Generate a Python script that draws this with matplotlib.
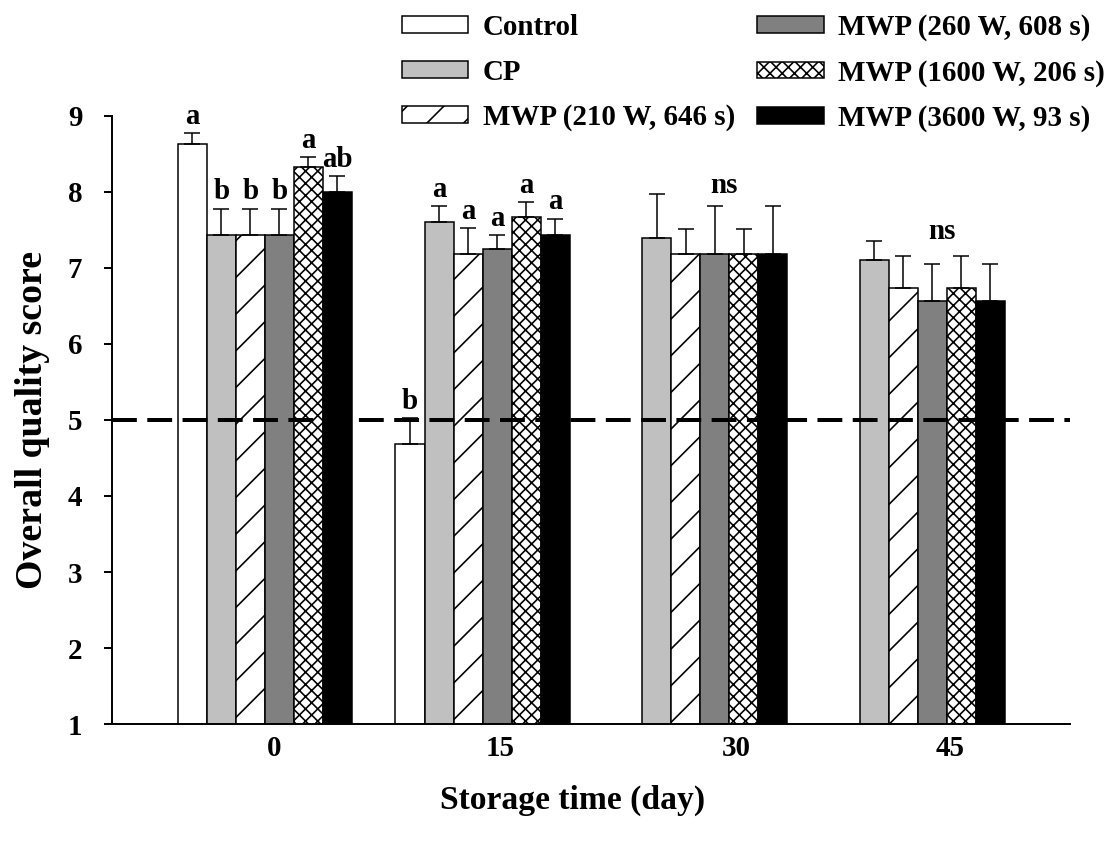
# -*- coding: utf-8 -*-

"""
Overall quality score vs storage time
Grouped bars with error bars, significance letters and a limit line at 5
"""

import numpy as np
import matplotlib
matplotlib.use("Agg")
import matplotlib.pyplot as plt


# =============================================================================
# DATA
# =============================================================================

days = ["0", "15", "30", "45"]

treatments = [
    "Control",
    "CP",
    "MWP (210 W, 646 s)",
    "MWP (260 W, 608 s)",
    "MWP (1600 W, 206 s)",
    "MWP (3600 W, 93 s)",
]

# mean scores per treatment (one value per storage day)
control = [8.63, 4.68, np.nan, np.nan]
cp = [7.43, 7.60, 7.40, 7.11]
mwp_210 = [7.43, 7.19, 7.19, 6.74]
mwp_260 = [7.43, 7.25, 7.19, 6.57]
mwp_1600 = [8.33, 7.67, 7.19, 6.74]
mwp_3600 = [8.00, 7.43, 7.19, 6.57]

# standard deviations (upper bars only)
control_err = [0.14, 0.34, np.nan, np.nan]
cp_err = [0.35, 0.21, 0.57, 0.25]
mwp_210_err = [0.35, 0.33, 0.32, 0.42]
mwp_260_err = [0.35, 0.18, 0.63, 0.48]
mwp_1600_err = [0.13, 0.20, 0.32, 0.42]
mwp_3600_err = [0.21, 0.22, 0.63, 0.48]

# significance letters per day (ns = not significant)
day0_letters = ["a", "b", "b", "b", "a", "ab"]
day15_letters = ["b", "a", "a", "a", "a", "a"]
ns_days = [2, 3]

limit_score = 5


# =============================================================================
# STYLE
# =============================================================================

# hatch spacing follows the dpi, so the dpi is picked for the hatch density;
# every size below is given for 156 dpi and scaled by S
DPI = 110
S = 156 / DPI

fills = ["white", "#c0c0c0", "white", "#808080", "white", "black"]
hatches = [None, None, "/", None, "xxx", None]

plt.rcParams["font.family"] = ["Liberation Serif", "DejaVu Serif"]
plt.rcParams["font.weight"] = "bold"
plt.rcParams["hatch.linewidth"] = 0.75 * S

means = [control, cp, mwp_210, mwp_260, mwp_1600, mwp_3600]
errs = [control_err, cp_err, mwp_210_err, mwp_260_err, mwp_1600_err, mwp_3600_err]

x = np.arange(len(days))
n = len(treatments)
width = 0.8 / n


# =============================================================================
# PLOT
# =============================================================================

fig = plt.figure(figsize=(1113 / DPI, 846 / DPI), dpi=DPI)
ax = fig.add_axes([0.1006, 0.1442, 0.8608, 0.7187])

for i in range(n):
    pos = x + (i - (n - 1) / 2) * width
    vals = np.array(means[i], dtype=float)
    err = np.array(errs[i], dtype=float)
    ax.bar(pos, vals, width, color=fills[i], edgecolor="black",
           linewidth=0.7 * S, hatch=hatches[i], label=treatments[i], zorder=2)
    ok = ~np.isnan(vals)
    ax.errorbar(pos[ok], vals[ok], yerr=[np.zeros(ok.sum()), err[ok]],
                fmt="none", ecolor="black", elinewidth=0.7 * S,
                capsize=3.6 * S, capthick=0.7 * S, zorder=3)

# letters above bars
for d, letters in [(0, day0_letters), (1, day15_letters)]:
    for i, let in enumerate(letters):
        pos = x[d] + (i - (n - 1) / 2) * width
        top = means[i][d] + errs[i][d]
        ax.annotate(let, (pos, top), xytext=(0, 1.5 * S), textcoords="offset points",
                    ha="center", va="bottom", fontsize=13.4 * S, fontweight="bold")

for d in ns_days:
    top = max(means[i][d] + errs[i][d] for i in range(1, n))
    ax.annotate("ns", (x[d] + 0.11, top), xytext=(0, -2 * S), textcoords="offset points",
                ha="center", va="bottom", fontsize=13.4 * S, fontweight="bold")

# limit of marketability
ax.axhline(limit_score, color="black", linewidth=1.85 * S, dashes=(6.2, 2.6), zorder=4)

ax.set_xlim(-0.703, 3.70)
ax.set_ylim(1, 9)
ax.set_yticks(range(1, 10))

label_shift = [0.04, 0.08, 0.165, 0.15]
ax.set_xticks(x + np.array(label_shift))
ax.set_xticklabels(days)

ax.tick_params(axis="x", length=0, pad=5 * S, labelsize=13.4 * S)
ax.tick_params(axis="y", length=3.7 * S, width=0.9 * S, pad=10 * S, labelsize=13.4 * S)

for side in ["top", "right"]:
    ax.spines[side].set_visible(False)
for side in ["left", "bottom"]:
    ax.spines[side].set_linewidth(0.9 * S)

ax.set_ylabel("Overall quality score", fontsize=17.5 * S, fontweight="bold", labelpad=8 * S)
fig.text(0.514, 0.054, "Storage time (day)", ha="center", va="center",
         fontsize=15.5 * S, fontweight="bold")

fig.legend(loc="upper right", bbox_to_anchor=(1105 / 1113, 1 - 14 / 846),
           ncol=2, frameon=False, fontsize=13.4 * S, borderpad=0, borderaxespad=0,
           handlelength=2.3, handleheight=0.5, handletextpad=0.5,
           labelspacing=0.62, columnspacing=0.75)

fig.savefig("out.png", dpi=DPI)
